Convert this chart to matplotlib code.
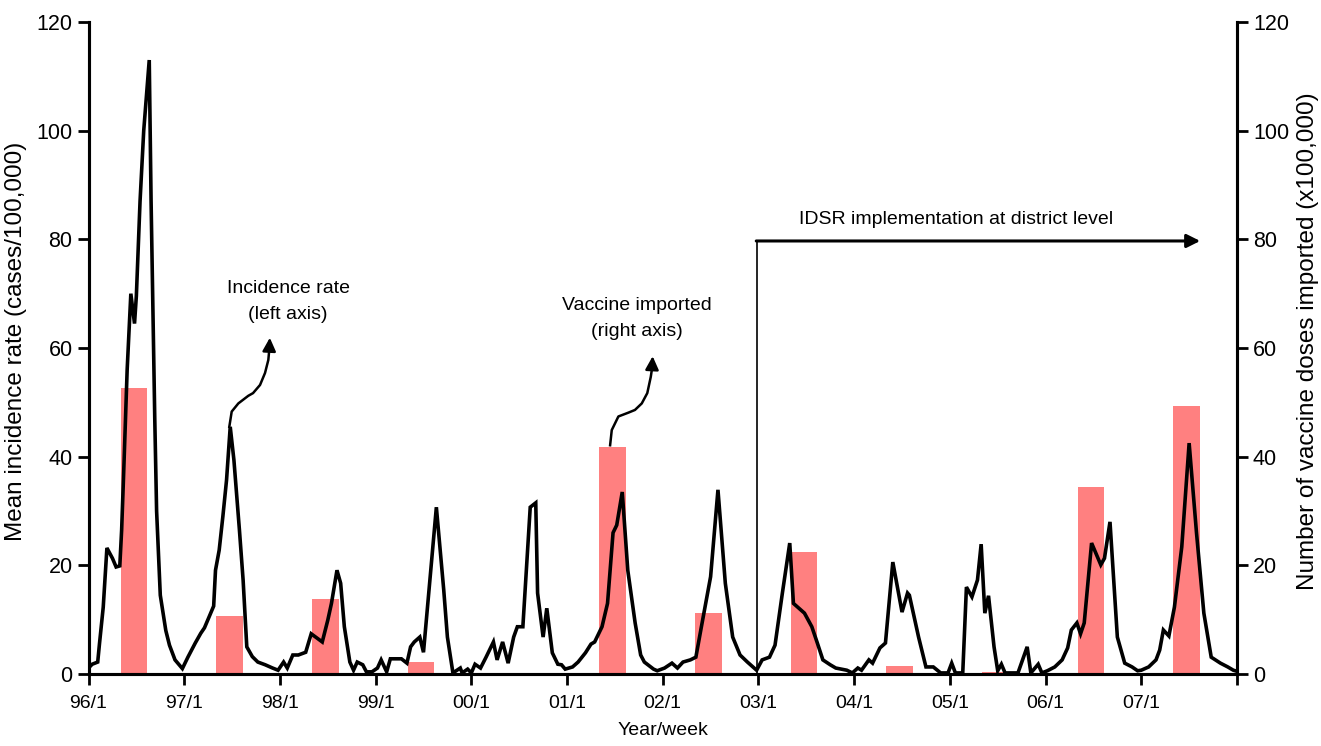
import matplotlib
matplotlib.use("Agg")
import matplotlib.pyplot as plt
import numpy as np

plt.rcParams['font.family'] = ['Liberation Sans', 'DejaVu Sans']

# ---- data ----
weeks = [0, 2, 5, 6, 8, 10, 13, 15, 17, 18, 19, 21, 23, 25, 26, 28, 30, 33, 34, 36, 37, 39, 42, 44, 47, 51, 54,
         58, 61, 63, 68, 69, 71, 73, 75, 77, 79, 82, 84, 86, 89, 92, 96, 100, 103,
         106, 108, 111, 114, 118, 121, 127, 130, 132, 135, 137, 139, 142, 144, 146, 149, 151, 154,
         157, 159, 162, 164, 170, 173, 175, 177, 180, 182, 189, 193, 195, 198, 202, 203, 206,
         208, 210, 213, 216, 220, 222, 225, 228, 231, 233, 236, 240, 243, 244, 247, 249, 252, 255, 257, 259,
         263, 266, 270, 273, 275, 279, 282, 285, 287, 290, 293, 297, 300, 302, 307, 309,
         313, 317, 320, 323, 327, 330, 333, 338, 342, 346, 350, 354, 358, 363,
         366, 370, 373, 377, 381, 383, 386, 389, 393, 396, 399, 403, 406, 412, 415,
         418, 420, 424, 426, 430, 433, 437, 442, 445, 446, 451, 455, 459, 463, 467,
         469, 471, 475, 477, 480, 483, 485, 487, 489, 492, 494, 496, 498, 505, 510, 512, 516, 518,
         521, 525, 529, 532, 534, 537, 539, 541, 545, 550, 552, 555, 559, 563, 567, 570,
         572, 576, 580, 582, 584, 587, 590, 594, 598, 602, 606, 610, 615, 619, 622, 624]
incidence = [1.1, 1.8, 2.2, 5.7, 12.3, 23.2, 21.3, 19.7, 19.9, 26.5, 36.0, 56.0, 70.0, 64.5, 69.6, 87.0, 100.0, 113.0, 87.0, 47.0, 30.0, 14.5, 8.0, 5.3, 2.6, 1.0, 3.1,
             5.7, 7.5, 8.5, 12.5, 19.1, 22.8, 29.0, 35.7, 45.5, 39.4, 26.5, 17.3, 5.0, 3.2, 2.2, 1.7, 1.1, 0.7,
             2.2, 1.1, 3.5, 3.5, 4.0, 7.4, 5.9, 9.9, 13.0, 19.1, 16.7, 8.7, 2.2, 0.7, 2.2, 1.7, 0.4, 0.4,
             1.1, 2.6, 0.4, 2.8, 2.8, 2.0, 5.0, 5.9, 6.8, 4.0, 30.7, 15.5, 6.8, 0.2, 1.1, 0.2, 0.9,
             0.2, 1.8, 1.1, 3.1, 5.9, 2.6, 5.9, 2.0, 6.8, 8.7, 8.7, 30.7, 31.5, 14.9, 6.8, 12.1, 3.9, 1.8, 1.7, 0.9,
             1.3, 2.2, 3.9, 5.5, 5.9, 8.7, 13.0, 26.0, 27.4, 33.5, 19.1, 9.4, 3.5, 2.2, 0.9, 0.6,
             1.1, 2.0, 1.1, 2.2, 2.6, 3.1, 8.7, 17.9, 33.9, 16.7, 6.8, 3.5, 2.2, 0.7,
             2.6, 3.1, 5.3, 14.9, 24.1, 13.0, 12.1, 11.2, 8.7, 5.7, 2.6, 1.7, 1.1, 0.7, 0.2,
             1.1, 0.7, 2.6, 2.0, 4.8, 5.7, 20.6, 11.4, 14.9, 14.5, 6.8, 1.3, 1.3, 0.2, 0.2,
             2.0, 0.2, 0.2, 16.0, 14.2, 17.3, 23.9, 11.2, 14.4, 5.0, 0.6, 1.8, 0.2, 0.2, 5.0, 0.2, 1.8, 0.2,
             0.6, 1.3, 2.6, 4.8, 8.1, 9.4, 7.4, 9.4, 24.1, 20.1, 21.3, 28.0, 6.8, 2.0, 1.3, 0.6,
             0.7, 1.3, 2.6, 4.4, 8.1, 7.0, 12.3, 23.4, 42.5, 26.0, 11.2, 3.1, 2.0, 1.3, 0.7, 0.5]

years = [1996, 1997, 1998, 1999, 2000, 2001, 2002, 2003, 2004, 2005, 2006, 2007]
doses = [52.7, 10.7, 13.8, 2.2, 0.0, 41.8, 11.2, 22.5, 1.5, 0.4, 34.4, 49.3]
year_labels = ['96/1', '97/1', '98/1', '99/1', '00/1', '01/1', '02/1', '03/1', '04/1', '05/1', '06/1', '07/1']

WEEKS_PER_YEAR = 52
BAR_OFFSET = 24.7
BAR_WIDTH = 14.5

fig = plt.figure(figsize=(13.21, 7.46), dpi=100)
ax = fig.add_axes([0.067, 0.0965, 0.8694, 0.874])
ax2 = ax.twinx()

year_idx = np.arange(len(years))
ax2.bar(year_idx * WEEKS_PER_YEAR + BAR_OFFSET, doses, width=BAR_WIDTH, color='#ff8080', zorder=1)
ax.plot(weeks, incidence, color='black', lw=2.6, solid_joinstyle='miter', zorder=3)

ax.set_zorder(ax2.get_zorder() + 1)
ax.patch.set_visible(False)

total = len(years) * WEEKS_PER_YEAR
for a in (ax, ax2):
    a.set_xlim(0, total)
    a.set_ylim(0, 120)
    a.set_yticks(np.arange(0, 121, 20))
    for s in a.spines.values():
        s.set_linewidth(2.2)
    a.spines['top'].set_visible(False)

ax.set_xticks(list(year_idx * WEEKS_PER_YEAR) + [total])
ax.set_xticklabels(year_labels + [''], fontsize=14)
ax.tick_params(axis='x', direction='out', length=8, width=2, pad=7)
ax.tick_params(axis='y', direction='out', length=8, width=2, labelsize=15.5)
ax2.tick_params(axis='y', direction='out', length=8, width=2, labelsize=15.5)

ax.set_xlabel('Year/week', fontsize=14, labelpad=7)
ax.set_ylabel('Mean incidence rate (cases/100,000)', fontsize=17.5, labelpad=7)
ax2.set_ylabel('Number of vaccine doses imported (x100,000)', fontsize=17.5, labelpad=6)
ax.yaxis.label.set_y(0.51)
ax2.yaxis.label.set_y(0.51)

# annotations
afs = 14
ax.text(108.4, 70.9, 'Incidence rate', ha='center', va='center', fontsize=afs)
ax.text(108.4, 66.1, '(left axis)', ha='center', va='center', fontsize=afs)
cx = [76.5, 77.8, 81.4, 86.8, 89.4, 93.2, 95.9, 97.7, 98.3]
cy = [45.5, 48.3, 49.8, 51.2, 51.7, 53.2, 55.4, 57.8, 60.0]
ax.plot(cx, cy, color='black', lw=1.8, zorder=4)
ax.annotate('', xy=(98.6, 62.4), xytext=(98.1, 59.0),
            arrowprops=dict(arrowstyle='-|>,head_length=0.8,head_width=0.4', color='black', lw=1.8), zorder=4)

ax.text(297.9, 67.9, 'Vaccine imported', ha='center', va='center', fontsize=afs)
ax.text(297.9, 63.0, '(right axis)', ha='center', va='center', fontsize=afs)
vx = [283.4, 284.3, 287.9, 293.3, 296.9, 300.6, 303.6, 305.5, 306.3]
vy = [42.1, 44.9, 47.4, 48.1, 48.6, 49.8, 51.7, 54.7, 56.5]
ax.plot(vx, vy, color='black', lw=1.8, zorder=4)
ax.annotate('', xy=(306.6, 59.0), xytext=(306.1, 55.5),
            arrowprops=dict(arrowstyle='-|>,head_length=0.8,head_width=0.4', color='black', lw=1.8), zorder=4)

ax.plot([363.2, 363.2], [0, 79.7], color='black', lw=1.2, zorder=4)
ax.annotate('', xy=(604, 79.7), xytext=(362.8, 79.7),
            arrowprops=dict(arrowstyle='-|>,head_length=0.8,head_width=0.4', color='black', lw=2.2,
                            shrinkA=0, shrinkB=0), zorder=4)
ax.text(471.2, 83.6, 'IDSR implementation at district level', ha='center', va='center', fontsize=afs)

fig.savefig('out.png', dpi=100)
